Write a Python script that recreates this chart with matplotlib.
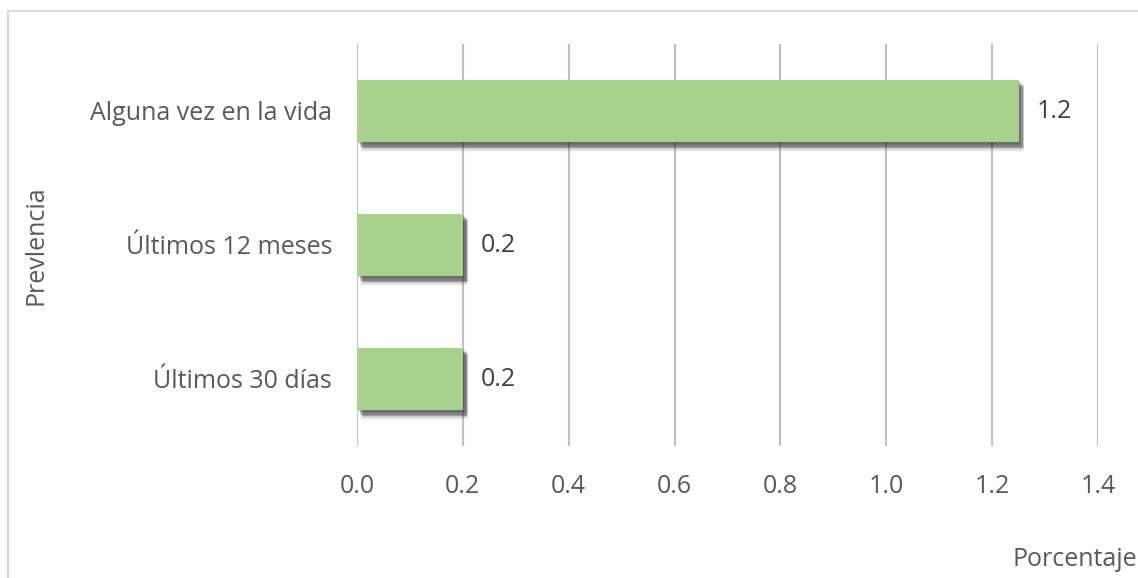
import matplotlib.pyplot as plt
import matplotlib.patheffects as pe
from matplotlib.patches import Rectangle

categories = ['Últimos 30 días', 'Últimos 12 meses', 'Alguna vez en la vida']
values = [0.2, 0.2, 1.25]
value_labels = ['0.2', '0.2', '1.2']
x_ticks = [0.0, 0.2, 0.4, 0.6, 0.8, 1.0, 1.2, 1.4]

plt.rcParams['font.family'] = ['Open Sans', 'DejaVu Sans']
text_color = '#595959'
bar_color = '#A9D18E'
grid_color = '#BFBFBF'
fs = 18

fig = plt.figure(figsize=(11.38, 5.78), dpi=100)
ax = fig.add_axes([357 / 1138, 1 - 446 / 578, (1098 - 357) / 1138, (446 - 44) / 578])

# light border round the chart area
fig.patches.append(Rectangle((8 / 1138, -0.01), 1.02, 1 - 11 / 578 + 0.01,
                             transform=fig.transFigure, fill=False,
                             edgecolor='#D9D9D9', linewidth=1.5))

bars = ax.barh(range(len(categories)), values, height=0.47, color=bar_color, zorder=3)
# soft shadow: a few stacked faint layers
shadow = [pe.SimplePatchShadow(offset=(dx, dy), shadow_rgbFace='#303030', alpha=0.14)
          for dx, dy in [(1, -1), (2, -2), (3, -3), (4, -4), (2, -3), (3, -4), (4, -5), (3, -6)]]
for b in bars:
    b.set_path_effects(shadow + [pe.Normal()])

for i, (v, lab) in enumerate(zip(values, value_labels)):
    ax.annotate(lab, (v, i), xytext=(13, 0), textcoords='offset points',
                va='center', ha='left', fontsize=fs, color='#404040')

ax.set_xlim(0, 1.4)
ax.set_ylim(-0.5, len(categories) - 0.5)
ax.set_xticks(x_ticks)
ax.set_xticklabels([f'{t:.1f}' for t in x_ticks])
ax.set_yticks(range(len(categories)))
ax.set_yticklabels(categories)
ax.tick_params(axis='both', length=0, labelsize=fs, labelcolor=text_color)
ax.tick_params(axis='x', pad=20)
ax.tick_params(axis='y', pad=18)
ax.grid(axis='x', color=grid_color, linewidth=1.5, zorder=0)
for s in ax.spines.values():
    s.set_visible(False)

fig.text(36 / 1138, 1 - 245 / 578, 'Prevlencia', rotation=90, ha='center', va='center',
         fontsize=fs, color=text_color)
fig.text(1137 / 1138, 1 - 560 / 578, 'Porcentaje', ha='right', va='center',
         fontsize=fs, color=text_color)

fig.savefig('out.png', dpi=100)
